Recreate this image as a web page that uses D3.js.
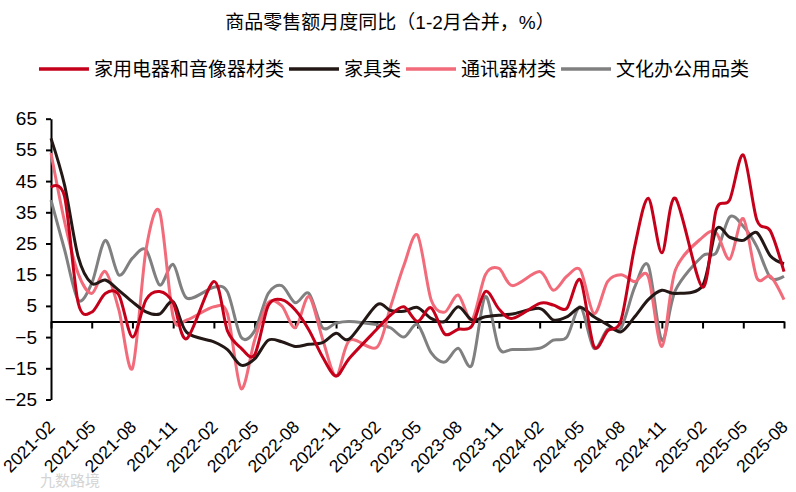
<!DOCTYPE html>
<html>
<head>
<meta charset="utf-8">
<script src="https://cdn.jsdelivr.net/npm/d3@7"></script>
<style>
  html, body { margin: 0; padding: 0; background: #fff; }
  svg { display: block; }
  text { font-family: "Liberation Sans", Arial, "Noto Sans CJK SC", sans-serif; fill: #000; }
</style>
</head>
<body>
<svg id="chart" width="796" height="492"></svg>
<script>
// ---------------- data ----------------
const title = "商品零售额月度同比（1-2月合并，%）";

const months = [
  "2021-02","2021-03","2021-04","2021-05","2021-06","2021-07","2021-08","2021-09","2021-10","2021-11","2021-12",
  "2022-02","2022-03","2022-04","2022-05","2022-06","2022-07","2022-08","2022-09","2022-10","2022-11","2022-12",
  "2023-02","2023-03","2023-04","2023-05","2023-06","2023-07","2023-08","2023-09","2023-10","2023-11","2023-12",
  "2024-02","2024-03","2024-04","2024-05","2024-06","2024-07","2024-08","2024-09","2024-10","2024-11","2024-12",
  "2025-02","2025-03","2025-04","2025-05","2025-06","2025-07","2025-08"
];

const seriesNames = ["家用电器和音像器材类", "家具类", "通讯器材类", "文化办公用品类"];
const seriesColors = ["#C5001A", "#231815", "#F26B7A", "#808080"];

const appliances = [
  43, 40, 6, 3, 9, 8.5, -5, 7, 9.6, 6, -5.5,
  12.8, -3, -8.5, -10.7, 5, 7, 3.7, -2.7, -11.3, -17.5, -11.7,
  -2.5, 2, 4.7, 0, 4.4, -4, -2.5, -1.5, 9.6, 4, 1,
  5.8, 5.3, 4.2, 13.3, -8, -3, 0.5, 24, 39.5, 22, 39.5,
  11, 35.7, 39, 53.4, 32.5, 29, 16
];
const furniture = [
  58.7, 43.7, 20.8, 12.2, 13.3, 10, 6.3, 3.1, 2.4, 6.3, -3.5,
  -6.5, -9, -14, -12, -6, -6.5, -8, -7.3, -6.8, -3.8, -5.5,
  5.3, 3.5, 3.3, 4.5, 1, 0, 4.7, 0.5, 1.5, 2, 2.4,
  4.2, 0.5, 1.5, 4.5, 1.5, -1, -3.3, 1.5, 7, 10, 9,
  11.5, 29.5, 27, 26, 28.5, 21, 18.5
];
const telecom = [
  54, 32, 15.4, 9, 16, 3.7, -15, 23, 35.2, 1.5, 0.5,
  4.7, 2.5, -21.5, -6, 6, 5, -2, 8, -5.5, -17.5, -6,
  -8.3, 4.5, 18, 27.7, 7, 3, 8.5, 0.5, 15, 17, 11.5,
  16, 10, 14.5, 16.5, 2.5, 12.8, 15, 12.8, 14.4, -8, 16.5,
  27, 28.5, 20, 33, 14, 14.5, 7
];
const office = [
  38.9, 23, 6.9, 12.2, 26, 14.9, 20.3, 23, 11.7, 18.3, 7.5,
  11, 9.5, -5, -3, 9, 11.5, 6, 9, -2, -0.5, 0,
  -1, -2, -5, -1, -10, -13, -8.6, -14, 8, -8.5, -9,
  -8.6, -6, -5, 4.7, -8.6, -2.5, -2, 11, 18, -6, 10,
  21, 22, 33.5, 30.5, 24, 14, 14.5
];

const yTicks = [65, 55, 45, 35, 25, 15, 5, -5, -15, -25];
const xTickLabels = [
  "2021-02","2021-05","2021-08","2021-11","2022-02","2022-05","2022-08","2022-11",
  "2023-02","2023-05","2023-08","2023-11","2024-02","2024-05","2024-08","2024-11",
  "2025-02","2025-05","2025-08"
];

// ---------------- chart ----------------
const svg = d3.select("#chart");
const allSeries = [appliances, furniture, telecom, office];

// month index since 2021-02 (date-based axis, January merged into February)
const monthIndex = s => { const [y, m] = s.split("-").map(Number); return (y - 2021) * 12 + (m - 2); };

const x = d3.scaleLinear()
  .domain([monthIndex(months[0]), monthIndex(months[months.length - 1])])
  .range([51, 784]);
const y = d3.scaleLinear().domain([-25, 65]).range([399.5, 118.7]);

// title
svg.append("text")
  .attr("x", 390).attr("y", 29)
  .attr("text-anchor", "middle")
  .style("font-size", "19px")
  .text(title);

// legend
const legend = svg.append("g");
let lx = 0;
const lineLen = 50;
seriesNames.forEach((name, i) => {
  const g = legend.append("g").attr("transform", `translate(${lx},0)`);
  g.append("line").attr("x1", 0).attr("x2", lineLen).attr("y1", 0).attr("y2", 0)
    .attr("stroke", seriesColors[i]).attr("stroke-width", 3.5);
  const t = g.append("text").attr("x", lineLen + 5).attr("y", 7)
    .style("font-size", "19px").text(name);
  lx += lineLen + 5 + t.node().getComputedTextLength() + 5;
});
const legendW = lx - 5;
legend.attr("transform", `translate(${394 - legendW / 2},69)`);

// y axis
const yAxis = svg.append("g")
  .attr("transform", "translate(51,0)")
  .call(d3.axisLeft(y).tickValues(yTicks).tickSize(5).tickSizeOuter(0).tickPadding(9).tickFormat(d3.format("d")));
yAxis.select(".domain").attr("stroke", "#000").attr("stroke-width", 2);
yAxis.selectAll(".tick line").attr("stroke", "#000").attr("stroke-width", 2);
yAxis.selectAll(".tick text").style("font-size", "19px").style("font-family", "'Liberation Sans', Arial, sans-serif");

// x axis at zero
const xTickIdx = xTickLabels.map(monthIndex);
const xAxis = svg.append("g")
  .attr("transform", `translate(0,${y(0)})`)
  .call(d3.axisBottom(x).tickValues(xTickIdx).tickSize(7).tickSizeOuter(0).tickFormat(""));
xAxis.select(".domain").attr("stroke", "#000").attr("stroke-width", 2);
xAxis.selectAll(".tick line").attr("stroke", "#000").attr("stroke-width", 2);

// x labels at bottom, rotated
svg.append("g").selectAll("text")
  .data(xTickLabels)
  .join("text")
  .attr("transform", d => `translate(${x(monthIndex(d)) + 5},428) rotate(-45)`)
  .attr("text-anchor", "end")
  .style("font-size", "17.5px")
  .text(d => d);

// lines
const line = d3.line()
  .x((d, i) => x(monthIndex(months[i])))
  .y(d => y(d))
  .curve(d3.curveCardinal.tension(0.1));

const order = [3, 2, 1, 0];
svg.append("g").selectAll("path")
  .data(order)
  .join("path")
  .attr("d", k => line(allSeries[k]))
  .attr("fill", "none")
  .attr("stroke", k => seriesColors[k])
  .attr("stroke-width", 3)
  .attr("stroke-linejoin", "round");

// watermark
svg.append("text")
  .attr("x", 40).attr("y", 486)
  .style("font-size", "15px")
  .style("font-family", "'Noto Sans CJK SC', sans-serif")
  .style("fill", "#d4d4d4")
  .text("九数路境");
</script>
</body>
</html>
